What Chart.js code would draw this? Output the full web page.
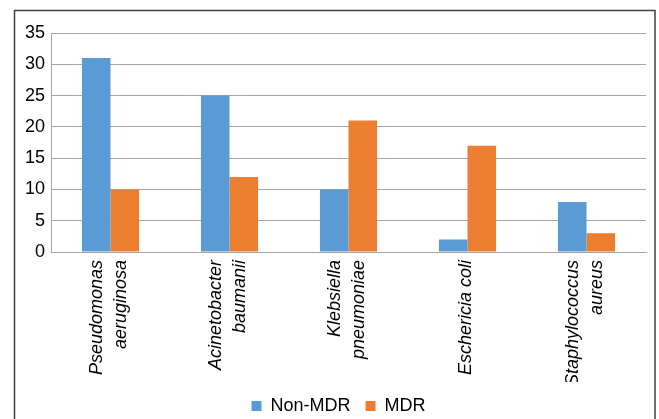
<!DOCTYPE html>
<html>
<head>
<meta charset="utf-8">
<script src="https://cdn.jsdelivr.net/npm/chart.js@4.4.1/dist/chart.umd.min.js"></script>
<style>
  html, body { margin: 0; padding: 0; background: #fff; overflow: hidden; }
  #wrap { position: relative; width: 659px; height: 425px; }
</style>
</head>
<body>
<div id="wrap"><canvas id="c" width="659" height="425"></canvas></div>
<script>
// Organisms (two-line labels) and isolate counts per group
const organisms = [
  ['Pseudomonas', 'aeruginosa'],
  ['Acinetobacter', 'baumanii'],
  ['Klebsiella', 'pneumoniae'],
  'Eschericia coli',
  ['Staphylococcus', 'aureus']
];
const nonMdr = [31, 25, 10, 2, 8];
const mdr = [10, 12, 21, 17, 3];
const seriesNames = ['Non-MDR', 'MDR'];
const yMin = 0, yMax = 35, yStep = 5;

const FONT = 'Liberation Sans, Arial, sans-serif';
const GRID = '#A6A6A6';

// Thin frame around the figure
const framePlugin = {
  id: 'frame',
  afterDraw(chart) {
    const ctx = chart.ctx;
    ctx.save();
    ctx.strokeStyle = '#404040';
    ctx.lineWidth = 1.5;
    ctx.strokeRect(14.5, 10.5, 640.5, 430);
    ctx.restore();
  }
};

// Centre the legend under the whole frame rather than the padded layout box
const legendShift = {
  id: 'legendShift',
  afterLayout(chart) {
    const lg = chart.legend;
    if (lg) { lg.left += 8; lg.right += 8; }
  }
};

// Single-line labels use a (transparent) backdrop so they stay centred on
// their tick, while two-line labels are spread either side of it.
const isSingleLine = (ctx) => !Array.isArray(organisms[ctx.index]);

new Chart(document.getElementById('c'), {
  type: 'bar',
  data: {
    labels: organisms,
    datasets: [
      { label: seriesNames[0], data: nonMdr, backgroundColor: '#5B9BD5' },
      { label: seriesNames[1], data: mdr, backgroundColor: '#ED7D31' }
    ]
  },
  plugins: [framePlugin, legendShift],
  options: {
    responsive: false,
    animation: false,
    events: [],
    datasets: { bar: { categoryPercentage: 0.48, barPercentage: 1.0 } },
    layout: { padding: { left: 15, right: 13, top: 33, bottom: 0 } },
    plugins: {
      tooltip: { enabled: false },
      legend: {
        position: 'bottom',
        labels: {
          boxWidth: 10, boxHeight: 10, padding: 15,
          color: '#000',
          font: { family: FONT, size: 18 }
        }
      }
    },
    scales: {
      x: {
        grid: { display: false, drawTicks: false },
        border: { display: true, color: GRID, width: 1 },
        ticks: {
          minRotation: 90, maxRotation: 90, autoSkip: false, padding: 8,
          labelOffset: -14,
          showLabelBackdrop: isSingleLine,
          backdropColor: 'rgba(0,0,0,0)',
          backdropPadding: 0,
          color: '#000',
          font: { family: FONT, size: 18, style: 'italic', lineHeight: 1.38 }
        },
        afterFit(scale) { scale.height = 130; }
      },
      y: {
        min: yMin, max: yMax,
        grid: { color: GRID, lineWidth: 1, drawTicks: false },
        border: { display: true, color: GRID, width: 1 },
        ticks: {
          stepSize: yStep, padding: 6,
          color: '#000',
          font: { family: FONT, size: 18 }
        },
        afterFit(scale) { scale.width = 36; }
      }
    }
  }
});
</script>
</body>
</html>
